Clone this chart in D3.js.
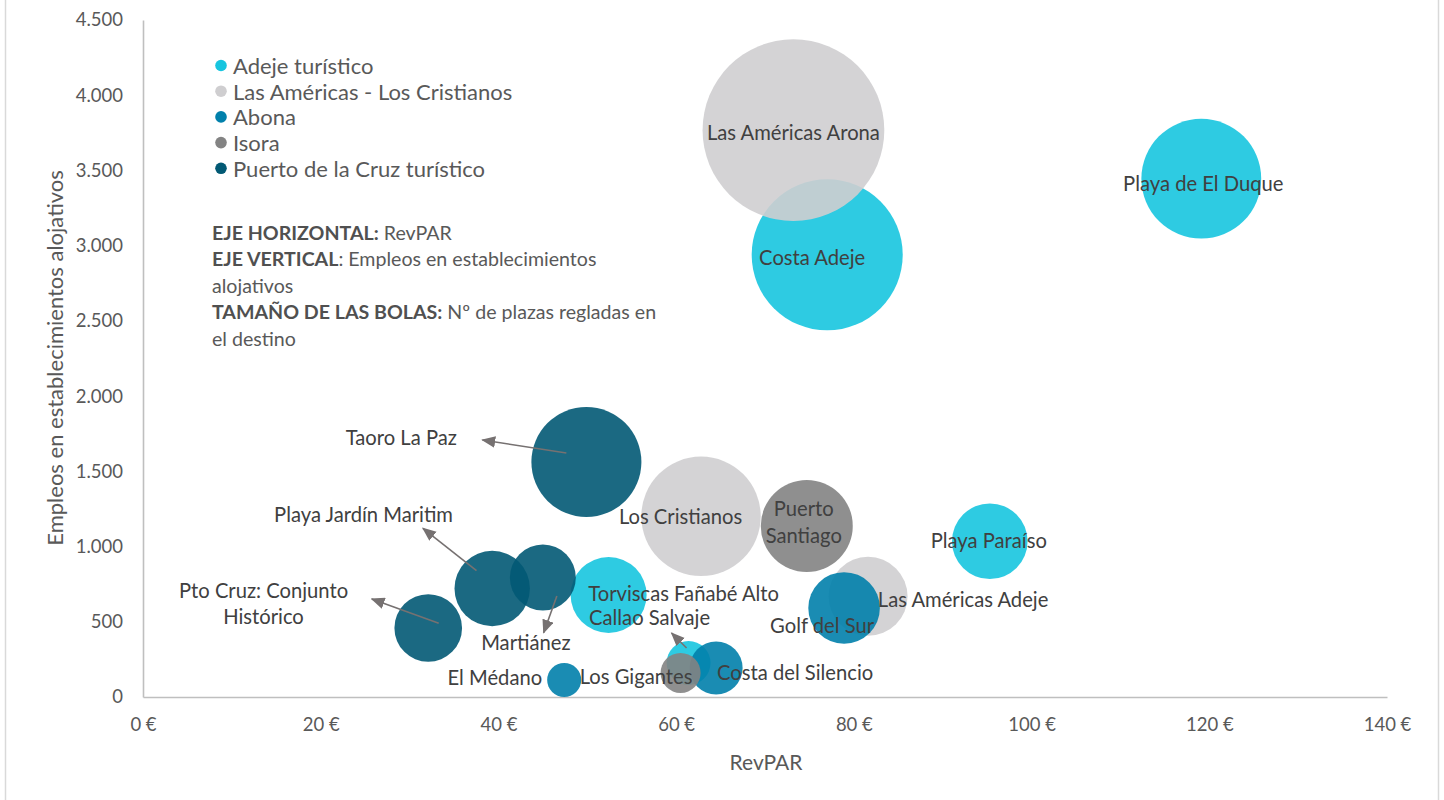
<!DOCTYPE html>
<html><head><meta charset="utf-8">
<script src="https://cdn.jsdelivr.net/npm/d3@7"></script>
<style>
body{margin:0;background:#fff;}
svg{display:block;font-family:Lato,"Open Sans",sans-serif;}
</style>
</head><body>
<svg id="chart" width="1444" height="800"></svg>
<script>
// ---------- DATA ----------
const seriesNames = ["Adeje turístico","Las Américas - Los Cristianos","Abona","Isora","Puerto de la Cruz turístico"];
const seriesColors = ["#17C5DF","#CFCED0","#0180AB","#838383","#025974"];

const destinos = ["Costa Adeje","Playa de El Duque","Playa Paraíso","Torviscas Fañabé Alto","Callao Salvaje",
  "Las Américas Arona","Los Cristianos","Las Américas Adeje",
  "Golf del Sur","Costa del Silencio","El Médano",
  "Puerto Santiago","Los Gigantes",
  "Taoro La Paz","Playa Jardín Maritim","Martiánez","Pto Cruz: Conjunto Histórico"];
const serie   = [0,0,0,0,0, 1,1,1, 2,2,2, 3,3, 4,4,4,4];
const revpar  = [77.0,119.1,95.3,52.4,61.4, 73.2,62.8,81.6, 78.9,64.5,47.4, 74.7,60.5, 49.9,39.3,45.0,32.1];
const empleos = [2939,3445,1035,678,226, 3768,1201,669, 592,193,113, 1137,160, 1562,721,794,459];
const plazas  = [24800,15600,6210,6280,2100, 35900,15500,6780, 5570,3050,1260, 9200,1740, 13150,6180,4730,4970];

const xTicks = [0,20,40,60,80,100,120,140];
const yTicks = [0,500,1000,1500,2000,2500,3000,3500,4000,4500];

const notes = [
  [["EJE HORIZONTAL:",true],[" RevPAR",false]],
  [["EJE VERTICAL",true],[": Empleos en establecimientos",false]],
  [["alojativos",false]],
  [["TAMAÑO DE LAS BOLAS:",true],[" Nº de plazas regladas en",false]],
  [["el destino",false]]
];

// ---------- LABEL LAYOUT (pixel offsets from bubble centre) ----------
const labelLayout = {
  "Costa Adeje":{dx:-15,dy:2,anchor:"middle"},
  "Playa de El Duque":{dx:2,dy:4,anchor:"middle"},
  "Playa Paraíso":{dx:-1,dy:-1,anchor:"middle"},
  "Torviscas Fañabé Alto":{dx:75,dy:-2,anchor:"middle"},
  "Callao Salvaje":{dx:-39,dy:-46,anchor:"middle",arrow:[-2,-15,-17,-30]},
  "Las Américas Arona":{dx:0,dy:1.5,anchor:"middle"},
  "Los Cristianos":{dx:-20.5,dy:0,anchor:"middle"},
  "Las Américas Adeje":{dx:95,dy:3,anchor:"middle"},
  "Golf del Sur":{dx:-22,dy:17,anchor:"middle"},
  "Costa del Silencio":{dx:79,dy:4,anchor:"middle"},
  "El Médano":{dx:-22,dy:-3,anchor:"end"},
  "Puerto Santiago":{dx:-3,dy:-18.3,anchor:"middle",brk:1,lh:27.3},
  "Los Gigantes":{dx:-44.5,dy:2.7,anchor:"middle"},
  "Taoro La Paz":{dx:-129.5,dy:-25,anchor:"end",arrow:[-20,-9,-104,-22]},
  "Playa Jardín Maritim":{dx:-128.7,dy:-75,anchor:"middle",arrow:[-15.7,-17.8,-69.3,-60.2]},
  "Martiánez":{dx:-17,dy:64,anchor:"middle",arrow:[14,18.5,0.8,55.2]},
  "Pto Cruz: Conjunto Histórico":{dx:-164.7,dy:-38,anchor:"middle",brk:3,lh:26,arrow:[10.5,-4.7,-56.5,-29]}
};

// ---------- CHART ----------
const svg = d3.select("#chart");
const W = 1444, H = 800;
const x = d3.scaleLinear().domain([0,140]).range([143,1387]);
const y = d3.scaleLinear().domain([0,4500]).range([697,20]);
const r = d3.scaleSqrt().domain([0,36000]).range([0,91]);
const loc = d3.formatLocale({decimal:",",thousands:".",grouping:[3],currency:["","€"]});
const fmtY = loc.format(",d");

const textCol = "#595959", labelCol = "#404040", axisCol = "#BFBFBF";

// outer border (left / right)
svg.append("line").attr("x1",5.5).attr("x2",5.5).attr("y1",0).attr("y2",H).attr("stroke","#D9D9D9").attr("stroke-width",1.5);
svg.append("line").attr("x1",1438.5).attr("x2",1438.5).attr("y1",0).attr("y2",H).attr("stroke","#D9D9D9").attr("stroke-width",1.5);

// axes
const gx = svg.append("g").attr("transform","translate(0,697)")
  .call(d3.axisBottom(x).tickValues(xTicks).tickSize(0).tickSizeOuter(0).tickPadding(21).tickFormat(d=>d+" €"));
const gy = svg.append("g").attr("transform","translate(143,0)")
  .call(d3.axisLeft(y).tickValues(yTicks).tickSize(0).tickSizeOuter(0).tickPadding(20).tickFormat(d=>fmtY(d)));
[gx,gy].forEach(g=>{
  g.select(".domain").attr("stroke",axisCol).attr("stroke-width",1.6);
  g.selectAll("text").attr("fill",textCol).attr("font-size",18.5).attr("font-family","Lato");
});

// axis titles
svg.append("text").attr("x",766).attr("y",761).attr("text-anchor","middle").attr("dominant-baseline","central")
  .attr("fill",textCol).attr("font-size",21).text("RevPAR");
svg.append("text").attr("transform","translate(54,358) rotate(-90)").attr("text-anchor","middle").attr("dominant-baseline","central")
  .attr("fill",textCol).attr("font-size",22).text("Empleos en establecimientos alojativos");

// bubbles
const pts = destinos.map((d,i)=>({name:d,s:serie[i],rv:revpar[i],em:empleos[i],pl:plazas[i]}));
const gb = svg.append("g");
gb.selectAll("circle").data(pts).join("circle")
  .attr("cx",d=>x(d.rv)).attr("cy",d=>y(d.em)).attr("r",d=>r(d.pl))
  .attr("fill",d=>seriesColors[d.s]).attr("fill-opacity",0.9);

// arrows
const defs = svg.append("defs");
defs.append("marker").attr("id","ah").attr("markerUnits","userSpaceOnUse")
  .attr("viewBox","0 0 12 10").attr("refX",11).attr("refY",5)
  .attr("markerWidth",14).attr("markerHeight",12).attr("orient","auto")
  .append("path").attr("d","M0,0 L12,5 L0,10 Z").attr("fill","#767171");
const ga = svg.append("g");
pts.forEach(p=>{
  const L = labelLayout[p.name];
  if(!L || !L.arrow) return;
  const cx = x(p.rv), cy = y(p.em), a = L.arrow;
  ga.append("line").attr("x1",cx+a[0]).attr("y1",cy+a[1]).attr("x2",cx+a[2]).attr("y2",cy+a[3])
    .attr("stroke","#767171").attr("stroke-width",1.6).attr("marker-end","url(#ah)");
});

// data labels
const gl = svg.append("g");
pts.forEach(p=>{
  const L = labelLayout[p.name];
  const cx = x(p.rv)+L.dx, cy = y(p.em)+L.dy;
  const t = gl.append("text").attr("x",cx).attr("y",cy).attr("text-anchor",L.anchor)
    .attr("dominant-baseline","central").attr("fill",labelCol).attr("font-size",20.2);
  if(L.brk){
    const w = p.name.split(" ");
    t.append("tspan").attr("x",cx).attr("y",cy).text(w.slice(0,L.brk).join(" "));
    t.append("tspan").attr("x",cx).attr("y",cy+L.lh).text(w.slice(L.brk).join(" "));
  } else t.text(p.name);
});

// legend
const lg = svg.append("g");
seriesNames.forEach((n,i)=>{
  const yy = 65.5 + i*25.7;
  lg.append("circle").attr("cx",221).attr("cy",yy).attr("r",5.8).attr("fill",seriesColors[i]);
  lg.append("text").attr("x",233).attr("y",yy).attr("dominant-baseline","central")
    .attr("fill",textCol).attr("font-size",22).text(n);
});

// notes
const ng = svg.append("g");
notes.forEach((line,i)=>{
  const t = ng.append("text").attr("x",212).attr("y",231.7 + i*26.5).attr("dominant-baseline","central")
    .attr("font-size",19.6).attr("fill",textCol);
  line.forEach(([s,b])=>{
    t.append("tspan").text(s).attr("font-weight",b?"bold":"normal").attr("fill",b?"#505050":textCol);
  });
});
</script>
</body></html>
